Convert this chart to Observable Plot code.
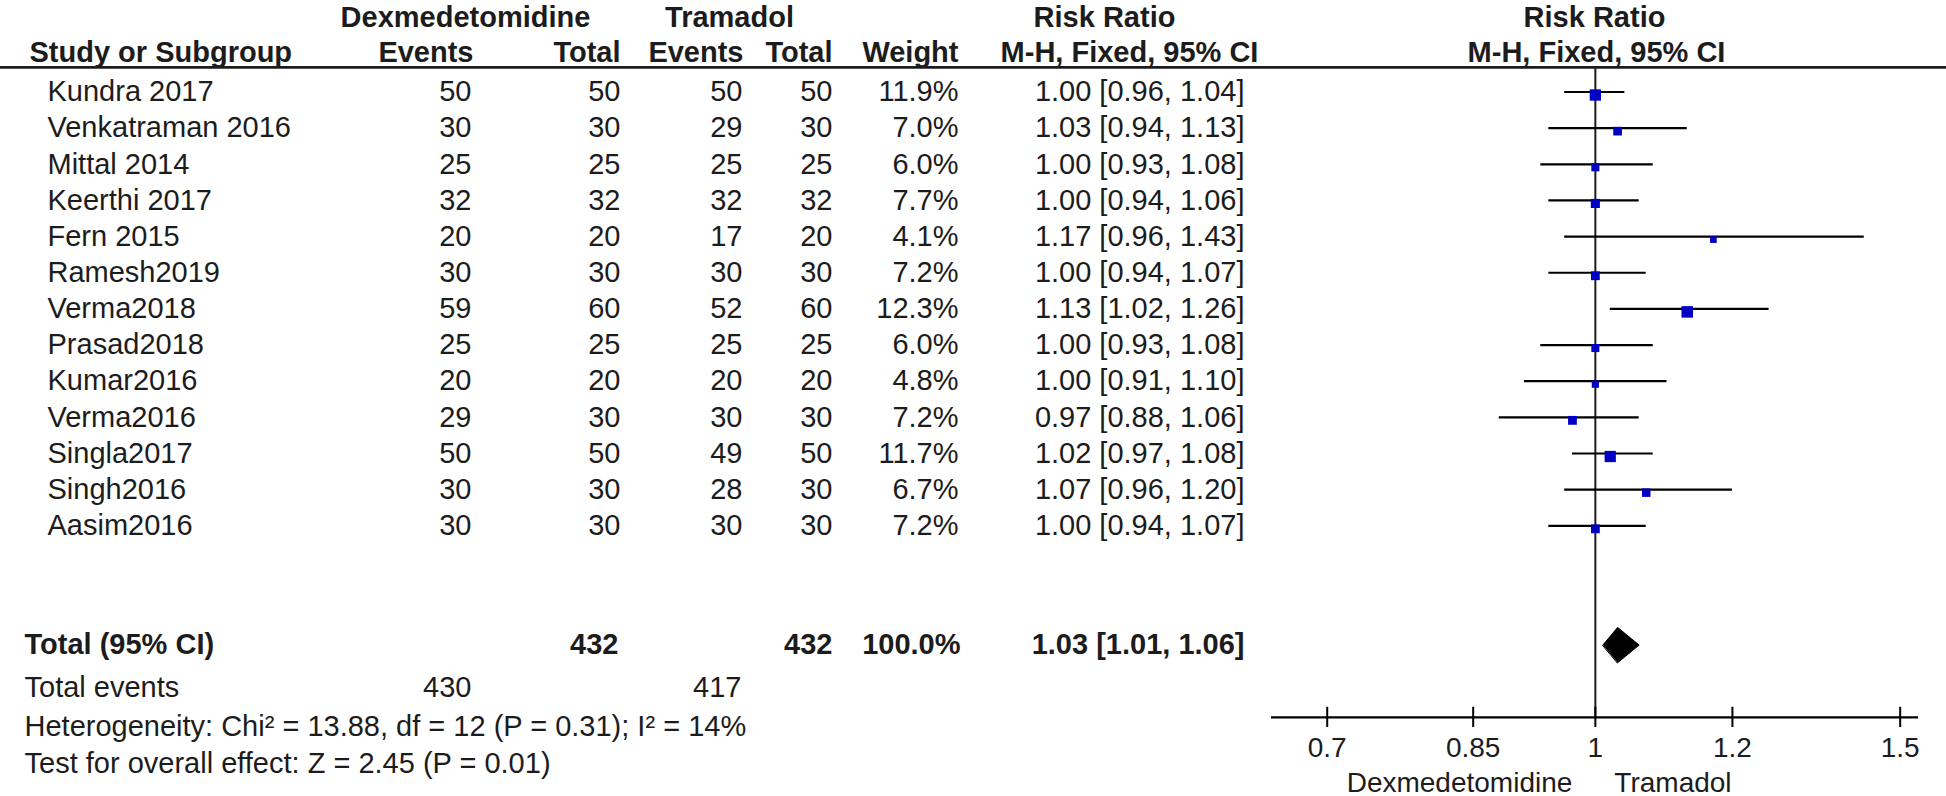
<!DOCTYPE html>
<html>
<head>
<meta charset="utf-8">
<script src="https://cdn.jsdelivr.net/npm/d3@7"></script>
<script src="https://cdn.jsdelivr.net/npm/@observablehq/plot@0.6"></script>
<style>
  html, body { margin: 0; padding: 0; background: #fff; }
  #chart svg { display: block; }
</style>
</head>
<body>
<div id="chart"></div>
<script>
// ---------- data ----------
const studies    = ["Kundra 2017", "Venkatraman 2016", "Mittal 2014", "Keerthi 2017", "Fern 2015", "Ramesh2019", "Verma2018", "Prasad2018", "Kumar2016", "Verma2016", "Singla2017", "Singh2016", "Aasim2016"];
const dexEvents  = [50, 30, 25, 32, 20, 30, 59, 25, 20, 29, 50, 30, 30];
const dexTotal   = [50, 30, 25, 32, 20, 30, 60, 25, 20, 30, 50, 30, 30];
const tramEvents = [50, 29, 25, 32, 17, 30, 52, 25, 20, 30, 49, 28, 30];
const tramTotal  = [50, 30, 25, 32, 20, 30, 60, 25, 20, 30, 50, 30, 30];
const weights    = [11.9, 7.0, 6.0, 7.7, 4.1, 7.2, 12.3, 6.0, 4.8, 7.2, 11.7, 6.7, 7.2];
const rr         = [1.00, 1.03, 1.00, 1.00, 1.17, 1.00, 1.13, 1.00, 1.00, 0.97, 1.02, 1.07, 1.00];
const ciLow      = [0.96, 0.94, 0.93, 0.94, 0.96, 0.94, 1.02, 0.93, 0.91, 0.88, 0.97, 0.96, 0.94];
const ciHigh     = [1.04, 1.13, 1.08, 1.06, 1.43, 1.07, 1.26, 1.08, 1.10, 1.06, 1.08, 1.20, 1.07];

const totalDex = 432, totalTram = 432, totalWeight = 100.0;
const totalRR = 1.03, totalLow = 1.01, totalHigh = 1.06;
const totalEventsDex = 430, totalEventsTram = 417;
const hetText  = "Heterogeneity: Chi² = 13.88, df = 12 (P = 0.31); I² = 14%";
const testText = "Test for overall effect: Z = 2.45 (P = 0.01)";
const axisTicks = [0.7, 0.85, 1, 1.2, 1.5];
const axisDomain = [0.65, 1.537];
const leftLabel = "Dexmedetomidine", rightLabel = "Tramadol";

// ---------- layout ----------
const W = 1946, H = 796;
const ML = 1271, MR = 28;
const rowStep = 36.15, row0 = 91.5;
const R = { head1: -2.05, head2: -1.1, hline: -0.68, total: 15.3, tevents: 16.47, het: 17.55, test: 18.57, axis: 17.3, tickLab: 18.16, dirLab: 19.12 };
const FONT = "'Liberation Sans', Arial, Helvetica, sans-serif";
const FS = 29;
const INK = "#1c1c1c";

const rows = studies.map((s, i) => ({
  i, name: s, de: dexEvents[i], dt: dexTotal[i], te: tramEvents[i], tt: tramTotal[i],
  w: weights[i], rr: rr[i], lo: ciLow[i], hi: ciHigh[i]
}));
const f2 = d3.format(".2f");
const ciStr = (e, l, h) => `${f2(e)} [${f2(l)}, ${f2(h)}]`;

function colText(data, xPos, anchor, opts) {
  return Plot.text(data, Object.assign({
    frameAnchor: "left", dx: xPos - ML, textAnchor: anchor,
    fontSize: FS, fill: INK
  }, opts));
}
const one = [0];

const diamond = [
  {x: totalLow, y: R.total},
  {x: totalRR, y: R.total - 0.49},
  {x: totalHigh, y: R.total},
  {x: totalRR, y: R.total + 0.49}
];

const marks = [
  // header texts
  colText(one, 465, "middle", {y: R.head1, text: () => "Dexmedetomidine", fontWeight: "bold"}),
  colText(one, 729, "middle", {y: R.head1, text: () => "Tramadol", fontWeight: "bold"}),
  colText(one, 1104, "middle", {y: R.head1, text: () => "Risk Ratio", fontWeight: "bold"}),
  colText(one, 1594, "middle", {y: R.head1, text: () => "Risk Ratio", fontWeight: "bold"}),
  colText(one, 29, "start", {y: R.head2, text: () => "Study or Subgroup", fontWeight: "bold"}),
  colText(one, 473, "end", {y: R.head2, text: () => "Events", fontWeight: "bold"}),
  colText(one, 620, "end", {y: R.head2, text: () => "Total", fontWeight: "bold"}),
  colText(one, 743, "end", {y: R.head2, text: () => "Events", fontWeight: "bold"}),
  colText(one, 832, "end", {y: R.head2, text: () => "Total", fontWeight: "bold"}),
  colText(one, 958, "end", {y: R.head2, text: () => "Weight", fontWeight: "bold"}),
  colText(one, 1129, "middle", {y: R.head2, text: () => "M-H, Fixed, 95% CI", fontWeight: "bold"}),
  colText(one, 1596, "middle", {y: R.head2, text: () => "M-H, Fixed, 95% CI", fontWeight: "bold"}),
  // header underline across the full width
  Plot.ruleY([R.hline], {stroke: INK, strokeWidth: 2.6, insetLeft: -ML, insetRight: -MR}),

  // study rows
  colText(rows, 47, "start", {y: "i", text: "name"}),
  colText(rows, 471, "end", {y: "i", text: "de"}),
  colText(rows, 620, "end", {y: "i", text: "dt"}),
  colText(rows, 742, "end", {y: "i", text: "te"}),
  colText(rows, 832, "end", {y: "i", text: "tt"}),
  colText(rows, 958, "end", {y: "i", text: d => d.w.toFixed(1) + "%"}),
  colText(rows, 1244, "end", {y: "i", text: d => ciStr(d.rr, d.lo, d.hi)}),

  // total row
  colText(one, 24, "start", {y: R.total, text: () => "Total (95% CI)", fontWeight: "bold"}),
  colText(one, 618, "end", {y: R.total, text: () => String(totalDex), fontWeight: "bold"}),
  colText(one, 832, "end", {y: R.total, text: () => String(totalTram), fontWeight: "bold"}),
  colText(one, 960, "end", {y: R.total, text: () => totalWeight.toFixed(1) + "%", fontWeight: "bold"}),
  colText(one, 1244, "end", {y: R.total, text: () => ciStr(totalRR, totalLow, totalHigh), fontWeight: "bold"}),
  colText(one, 24, "start", {y: R.tevents, text: () => "Total events"}),
  colText(one, 471, "end", {y: R.tevents, text: () => String(totalEventsDex)}),
  colText(one, 741, "end", {y: R.tevents, text: () => String(totalEventsTram)}),
  colText(one, 24, "start", {y: R.het, text: () => hetText}),
  colText(one, 24, "start", {y: R.test, text: () => testText}),

  // forest plot
  Plot.ruleX([1], {y1: R.hline, y2: R.axis, stroke: INK, strokeWidth: 2}),
  Plot.ruleY(rows, {y: "i", x1: "lo", x2: "hi", stroke: "#000", strokeWidth: 2.2}),
  Plot.dot(rows, {x: "rr", y: "i", r: "w", symbol: "square", fill: "#0000c4", stroke: "none", dy: 3}),
  Plot.line(diamond, {x: "x", y: "y", curve: "linear-closed", fill: "#000", stroke: "#000", strokeWidth: 1}),

  // axis
  Plot.ruleY([R.axis], {x1: axisDomain[0], x2: axisDomain[1], stroke: "#000", strokeWidth: 2.2}),
  Plot.ruleX(axisTicks, {x: d => d, y1: R.axis - 0.28, y2: R.axis + 0.28, stroke: "#000", strokeWidth: 2}),
  Plot.text(axisTicks, {x: d => d, y: R.tickLab, text: d => String(d), fontSize: 28, fill: INK}),
  Plot.text([1], {x: d => d, y: R.dirLab, text: () => leftLabel, textAnchor: "end", dx: -23, fontSize: 28, fill: INK}),
  Plot.text([1], {x: d => d, y: R.dirLab, text: () => rightLabel, textAnchor: "start", dx: 19, fontSize: 28, fill: INK})
];

const chart = Plot.plot({
  width: W, height: H,
  marginLeft: ML, marginRight: MR, marginTop: 0, marginBottom: 0,
  style: { fontFamily: FONT, background: "#fff", overflow: "visible" },
  x: { type: "log", domain: axisDomain, axis: null },
  y: { type: "linear", domain: [-row0 / rowStep, (H - row0) / rowStep], range: [0, H], axis: null },
  r: { type: "sqrt", domain: [0, 12.3], range: [0, 6.5] },
  marks
});
document.getElementById("chart").appendChild(chart);
</script>
</body>
</html>
